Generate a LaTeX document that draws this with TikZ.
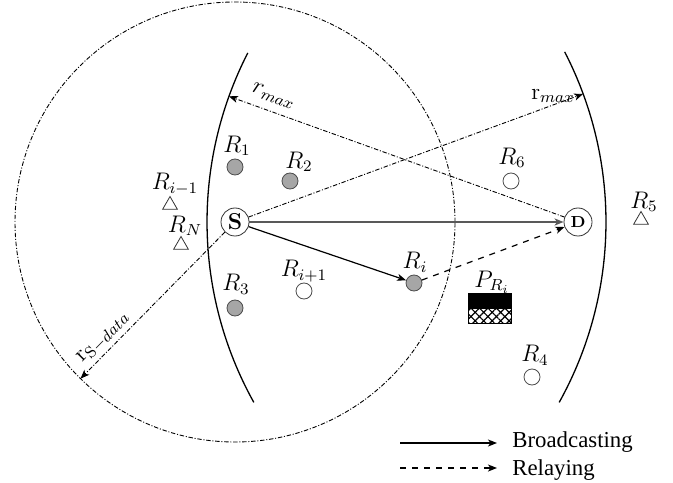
\documentclass[tikz,border=0pt]{standalone}
\usepackage{fontspec}
\newfontfamily\legfont{Liberation Serif}
\usetikzlibrary{shapes.geometric,arrows.meta,patterns.meta,calc}
\begin{document}
\begin{tikzpicture}[x=0.5pt,y=0.5pt,
  lbl/.style={font=\fontsize{11.5}{13}\selectfont, inner sep=0pt},
  leg/.style={font=\legfont\fontsize{11.4}{13}\selectfont, inner sep=0pt, anchor=base west},
  gnode/.style={circle,draw=black!70,fill=black!35,minimum size=8pt,inner sep=0pt},
  wnode/.style={circle,draw=black!70,fill=white,minimum size=8pt,inner sep=0pt},
  tnode/.style={regular polygon,regular polygon sides=3,draw=black!80,minimum size=8.5pt,inner sep=0pt},
  term/.style={circle,draw=black!80,fill=white,minimum size=14pt,inner sep=0pt},
  dd/.style={line width=0.45pt,dash pattern=on 2.2pt off 0.9pt on 0.5pt off 0.9pt},
  tip/.style={-{Stealth[length=4.5pt,width=3.5pt,inset=1.2pt]}},
  rarc/.style={line width=0.65pt}
]
\useasboundingbox (0,0) rectangle (673,482);
\coordinate (Sc) at (235,260);
\coordinate (Dc) at (578,260);
% big circle of S-data range
\draw[dd] (Sc) circle[radius=220];
% r_max arcs
\draw[rarc] ($(Dc)+(152.9:371)$) arc[start angle=152.9,end angle=209.1,radius=371];
\draw[rarc] ($(Sc)+(-29.1:371)$) arc[start angle=-29.1,end angle=27.3,radius=371];
% terminals
\node[term] (S) at (Sc) {\fontsize{11.5}{12}\selectfont\bfseries S};
\node[term] (D) at (Dc) {\fontsize{8}{9}\selectfont\bfseries D};
% radius arrows
\coordinate (A1) at ($(Dc)+(160.2:371)$);
\draw[dd,tip] (D.160.2) -- (A1) node[lbl,pos=0.883,above=4pt,sloped] {$r_{max}$};
\coordinate (A2) at ($(Sc)+(20.2:371)$);
\draw[dd,tip] (S.20.2) -- (A2);
\node[lbl] (rmx) at (553,386) {$\mathrm{r}_{max}$};
\coordinate (A3) at ($(Sc)+(225.4:220)$);
\draw[dd,tip] (S.225.4) -- (A3) node[lbl,pos=0.78,above=2pt,sloped] {$\mathrm{r}_{\mathrm{S}-data}$};
% relays
\node[gnode] (R1) at (235,315) {};
\node[lbl] (R1l) at (237,336) {$R_1$};
\node[gnode] (R2) at (290,301) {};
\node[lbl] (R2l) at (299,320) {$R_2$};
\node[tnode] (Rim) at (170,277) {};
\node[lbl] (Riml) at (175,298) {$R_{i-1}$};
\node[tnode] (RN) at (181,237) {};
\node[lbl] (RNl) at (185,256) {$R_N$};
\node[gnode] (R3) at (235,174) {};
\node[lbl] (R3l) at (236,198) {$R_3$};
\node[wnode] (Rip) at (304,191) {};
\node[lbl] (Ripl) at (304,211) {$R_{i+1}$};
\node[gnode] (Ri) at (414,199) {};
\node[lbl] (Ril) at (415,220) {$R_i$};
\node[wnode] (R4) at (532,105) {};
\node[lbl] (R4l) at (535,127) {$R_4$};
\node[wnode] (R6) at (511,301) {};
\node[lbl] (R6l) at (512,324) {$R_6$};
\node[tnode] (R5) at (641,262) {};
\node[lbl] (R5l) at (644,280) {$R_5$};
% power bar
\node[lbl] (P) at (492,200) {$P_{R_i}$};
\node[draw,fill=black,minimum width=21.5pt,minimum height=7pt,inner sep=0pt] (Pt) at (489.5,182) {};
\node[draw,line width=0.4pt,pattern={Hatch[angle=45,distance=3pt,line width=0.6pt]},minimum width=21.5pt,minimum height=7.5pt,inner sep=0pt,anchor=north] (Pb) at (Pt.south) {};
% transmissions
\draw[tip,line width=0.9pt,black!65] (S) -- (D);
\draw[tip,line width=0.6pt] (S) -- (Ri);
\draw[tip,dashed,line width=0.6pt] (Ri) -- (D);
% legend
\coordinate (L1a) at (400,39);
\coordinate (L1b) at (497,39);
\coordinate (L2a) at (400,14);
\coordinate (L2b) at (497,14);
\draw[tip,line width=0.6pt] (L1a) -- (L1b);
\draw[tip,dashed,line width=0.6pt] (L2a) -- (L2b);
\node[leg] (Lb) at (512,35) {Broadcasting};
\node[leg] (Lr) at (512,7) {Relaying};
\end{tikzpicture}
\end{document}
